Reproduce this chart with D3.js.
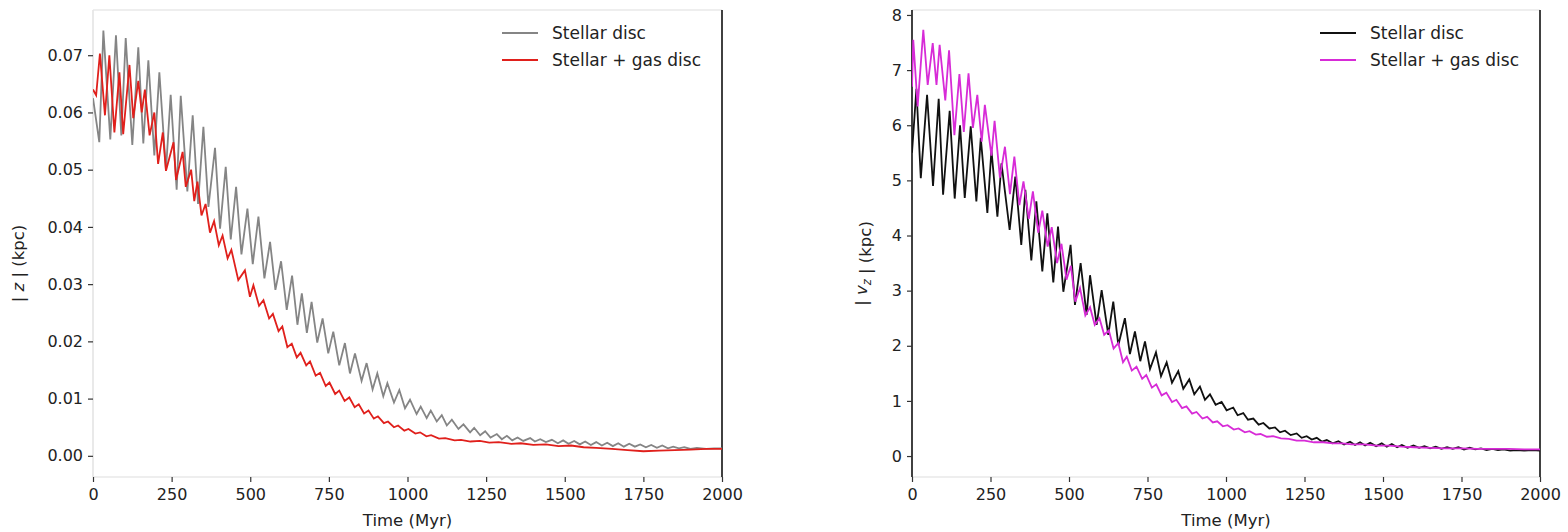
<!DOCTYPE html>
<html><head><meta charset="utf-8">
<script src="https://cdn.jsdelivr.net/npm/d3@7"></script>
<style>
html,body{margin:0;padding:0;background:#fff;}
text{font-family:"DejaVu Sans",sans-serif;fill:#222;}
</style></head><body>
<svg id="chart" width="1568" height="532"></svg>
<script>
// ---------- data ----------
const timeTicks = [0, 250, 500, 750, 1000, 1250, 1500, 1750, 2000];
const zTicks = [0.00, 0.01, 0.02, 0.03, 0.04, 0.05, 0.06, 0.07];
const vzTicks = [0, 1, 2, 3, 4, 5, 6, 7, 8];
const seriesNames = ["Stellar disc", "Stellar + gas disc"];

// |z| (kpc), stellar disc: [time (Myr), value]
const zStellar = [[0,0.0625],[20,0.0548],[33,0.0743],[55,0.0553],[73,0.0735],[90,0.0560],[104,0.0730],[125,0.0543],[144,0.0714],[160,0.0546],[176,0.0691],[195,0.0525],[211,0.0670],[232,0.0499],[247,0.0631],[266,0.0465],[279,0.0629],[300,0.0462],[317,0.0595],[334,0.0440],[351,0.0575],[367,0.0435],[388,0.0538],[404,0.0397],[422,0.0505],[438,0.0378],[455,0.0470],[472,0.0352],[491,0.0432],[508,0.0335],[526,0.0418],[545,0.0310],[563,0.0374],[580,0.0290],[598,0.0340],[616,0.0255],[633,0.0315],[650,0.0229],[664,0.0284],[680,0.0215],[695,0.0269],[713,0.0198],[730,0.0240],[748,0.0179],[764,0.0217],[783,0.0158],[801,0.0197],[817,0.0144],[833,0.0179],[854,0.0131],[870,0.0162],[889,0.0116],[904,0.0144],[923,0.0104],[936,0.0127],[957,0.0093],[974,0.0115],[992,0.0083],[1008,0.0098],[1029,0.0073],[1042,0.0086],[1061,0.0066],[1074,0.0079],[1093,0.0060],[1109,0.0071],[1125,0.0053],[1141,0.0063],[1162,0.0047],[1178,0.0055],[1199,0.0041],[1212,0.0049],[1231,0.0036],[1247,0.0043],[1264,0.0032],[1284,0.0038],[1300,0.0029],[1316,0.0035],[1333,0.0027],[1350,0.0032],[1368,0.0026],[1390,0.0031],[1405,0.0025],[1422,0.0029],[1440,0.0024],[1459,0.0028],[1478,0.0022],[1495,0.0027],[1512,0.0021],[1530,0.0026],[1548,0.0020],[1565,0.0025],[1583,0.0019],[1600,0.0024],[1618,0.0018],[1635,0.0023],[1653,0.0017],[1670,0.0022],[1688,0.0016],[1705,0.0021],[1723,0.0016],[1740,0.0020],[1758,0.0015],[1775,0.0019],[1793,0.0014],[1810,0.0018],[1828,0.0013],[1845,0.0016],[1863,0.0013],[1880,0.0015],[1900,0.0012],[1920,0.0014],[1950,0.0012],[1975,0.0013],[2000,0.0013]];

// |z| (kpc), stellar + gas disc
const zGas = [[0,0.0640],[10,0.0630],[22,0.0703],[38,0.0595],[52,0.0700],[68,0.0565],[84,0.0670],[96,0.0562],[116,0.0683],[128,0.0590],[144,0.0655],[155,0.0600],[165,0.0640],[180,0.0560],[195,0.0600],[207,0.0510],[222,0.0565],[232,0.0498],[256,0.0548],[264,0.0482],[285,0.0531],[295,0.0470],[312,0.0500],[322,0.0445],[332,0.0479],[345,0.0420],[358,0.0440],[372,0.0390],[385,0.0410],[400,0.0368],[412,0.0385],[428,0.0345],[440,0.0360],[462,0.0307],[483,0.0324],[499,0.0278],[510,0.0298],[528,0.0262],[542,0.0272],[560,0.0240],[572,0.0248],[590,0.0218],[602,0.0226],[618,0.0190],[632,0.0196],[648,0.0172],[660,0.0180],[678,0.0158],[690,0.0165],[708,0.0140],[722,0.0145],[740,0.0122],[752,0.0128],[770,0.0108],[783,0.0114],[800,0.0096],[815,0.0102],[832,0.0085],[845,0.0090],[862,0.0074],[876,0.0079],[893,0.0065],[906,0.0069],[925,0.0057],[938,0.0060],[957,0.0050],[970,0.0053],[990,0.0044],[1003,0.0047],[1025,0.0039],[1040,0.0041],[1060,0.0034],[1075,0.0036],[1100,0.0030],[1120,0.0031],[1150,0.0027],[1170,0.0028],[1200,0.0025],[1230,0.0026],[1260,0.0023],[1290,0.0024],[1330,0.0021],[1360,0.0022],[1400,0.0019],[1440,0.0020],[1480,0.0017],[1520,0.0018],[1560,0.0015],[1600,0.0014],[1650,0.0012],[1700,0.0010],[1750,0.0008],[1800,0.0009],[1850,0.0010],[1900,0.0011],[1950,0.0012],[2000,0.0012]];

// |v_z|, stellar disc
const vzStellar = [[0,5.50],[14,6.66],[28,5.04],[48,6.55],[67,4.90],[85,6.48],[99,4.74],[120,6.26],[136,4.67],[153,6.00],[168,4.68],[187,5.98],[205,4.62],[219,5.77],[240,4.41],[253,5.55],[272,4.34],[285,5.31],[311,4.10],[329,5.07],[348,3.83],[361,4.83],[380,3.55],[396,4.62],[415,3.35],[431,4.40],[450,3.15],[465,4.16],[482,2.98],[505,3.83],[519,2.74],[537,3.50],[556,2.56],[567,3.28],[588,2.38],[604,3.01],[625,2.20],[641,2.80],[657,2.01],[678,2.50],[694,1.85],[710,2.26],[727,1.72],[742,2.08],[758,1.58],[777,1.88],[793,1.45],[811,1.70],[828,1.33],[848,1.54],[864,1.22],[883,1.39],[899,1.12],[917,1.26],[933,1.02],[949,1.12],[967,0.93],[986,0.98],[1002,0.83],[1023,0.88],[1037,0.74],[1055,0.78],[1070,0.66],[1087,0.68],[1104,0.57],[1119,0.60],[1138,0.50],[1156,0.52],[1172,0.43],[1188,0.46],[1206,0.38],[1225,0.41],[1241,0.33],[1257,0.36],[1273,0.30],[1289,0.33],[1306,0.26],[1321,0.29],[1340,0.23],[1358,0.27],[1376,0.21],[1395,0.26],[1411,0.20],[1427,0.25],[1443,0.19],[1459,0.24],[1478,0.18],[1496,0.23],[1512,0.17],[1528,0.22],[1545,0.16],[1560,0.20],[1578,0.15],[1597,0.19],[1615,0.15],[1632,0.18],[1650,0.14],[1668,0.17],[1686,0.13],[1704,0.16],[1722,0.13],[1740,0.16],[1758,0.12],[1776,0.15],[1794,0.12],[1812,0.14],[1830,0.11],[1848,0.13],[1866,0.11],[1884,0.12],[1905,0.10],[1925,0.11],[1950,0.10],[1975,0.11],[2000,0.10]];

// |v_z|, stellar + gas disc
const vzGas = [[0,6.70],[4,7.55],[18,6.34],[36,7.73],[50,6.73],[66,7.49],[78,6.73],[88,7.46],[106,6.45],[118,7.36],[135,5.82],[151,6.93],[165,5.88],[180,6.94],[194,5.95],[208,6.55],[222,5.70],[232,6.37],[253,5.45],[263,6.08],[280,5.05],[296,5.61],[312,4.75],[326,5.43],[342,4.55],[355,4.98],[372,4.30],[385,4.80],[402,4.05],[415,4.45],[432,3.80],[445,4.15],[462,3.50],[476,3.85],[492,3.20],[506,3.45],[520,2.80],[535,3.05],[552,2.55],[567,2.70],[582,2.38],[597,2.50],[612,2.20],[627,2.28],[642,1.95],[657,2.05],[672,1.70],[684,1.80],[700,1.55],[715,1.62],[733,1.40],[746,1.47],[764,1.24],[778,1.30],[795,1.10],[810,1.15],[828,0.98],[842,1.02],[860,0.87],[874,0.90],[892,0.77],[906,0.80],[925,0.68],[940,0.71],[958,0.61],[972,0.63],[990,0.54],[1005,0.56],[1025,0.48],[1040,0.50],[1060,0.43],[1075,0.45],[1095,0.39],[1110,0.40],[1130,0.35],[1150,0.36],[1175,0.32],[1200,0.31],[1225,0.28],[1250,0.28],[1280,0.25],[1310,0.25],[1340,0.23],[1370,0.23],[1400,0.21],[1440,0.21],[1480,0.19],[1520,0.19],[1560,0.17],[1600,0.16],[1650,0.15],[1700,0.14],[1750,0.14],[1800,0.13],[1850,0.13],[1900,0.13],[1950,0.12],[2000,0.12]];

// ---------- drawing ----------
const svg = d3.select("#chart");

const panels = [
  { x0: 93, x1: 722, y0: 10, y1: 477, yDomain: [-0.0037, 0.0779], ticks: zTicks,
    fmt: d3.format(".2f"), series: [zStellar, zGas], colors: ["#858585", "#e0201c"],
    leftSpine: "#e4e4e4", rightSpine: "#111", legendX: 502, ylabelX: 24, ylabel: "z" },
  { x0: 912, x1: 1540, y0: 10, y1: 477, yDomain: [-0.38, 8.09], ticks: vzTicks,
    fmt: d3.format("d"), series: [vzStellar, vzGas], colors: ["#111111", "#d72bd7"],
    leftSpine: "#111", rightSpine: "#111", legendX: 1320, ylabelX: 867, ylabel: "vz" }
];

panels.forEach((p, pi) => {
  const x = d3.scaleLinear().domain([0, 2000]).range([p.x0, p.x1]);
  const y = d3.scaleLinear().domain(p.yDomain).range([p.y1, p.y0]);
  const g = svg.append("g");

  const clipId = "clip" + pi;
  svg.append("clipPath").attr("id", clipId).append("rect")
    .attr("x", p.x0).attr("y", p.y0).attr("width", p.x1 - p.x0).attr("height", p.y1 - p.y0);

  // spines
  g.append("line").attr("x1", p.x0).attr("x2", p.x1).attr("y1", p.y0).attr("y2", p.y0)
    .attr("stroke", "#e8e8e8").attr("stroke-width", 1.5);
  g.append("line").attr("x1", p.x0).attr("x2", p.x1).attr("y1", p.y1).attr("y2", p.y1)
    .attr("stroke", "#e8e8e8").attr("stroke-width", 1.5);
  g.append("line").attr("x1", p.x0).attr("x2", p.x0).attr("y1", p.y0).attr("y2", p.y1)
    .attr("stroke", p.leftSpine).attr("stroke-width", 1.6);
  g.append("line").attr("x1", p.x1).attr("x2", p.x1).attr("y1", p.y0).attr("y2", p.y1)
    .attr("stroke", p.rightSpine).attr("stroke-width", 1.6);

  // x axis
  const xa = g.append("g").attr("transform", `translate(0,${p.y1})`)
    .call(d3.axisBottom(x).tickValues(timeTicks).tickFormat(d3.format("d")).tickSize(5).tickPadding(7));
  xa.select(".domain").remove();
  xa.selectAll(".tick line").attr("stroke", "#333").attr("stroke-width", 1.2);
  xa.selectAll(".tick text").attr("font-size", 16).attr("font-family", "DejaVu Sans").attr("fill", "#222");

  // y axis
  const ya = g.append("g").attr("transform", `translate(${p.x0},0)`)
    .call(d3.axisLeft(y).tickValues(p.ticks).tickFormat(p.fmt).tickSize(5).tickPadding(5));
  ya.select(".domain").remove();
  ya.selectAll(".tick line").attr("stroke", "#333").attr("stroke-width", 1.2);
  ya.selectAll(".tick text").attr("font-size", 16).attr("font-family", "DejaVu Sans").attr("fill", "#222");

  // lines
  const line = d3.line().x(d => x(d[0])).y(d => y(d[1]));
  const lg = g.append("g").attr("clip-path", `url(#${clipId})`);
  p.series.forEach((s, i) => {
    lg.append("path").datum(s).attr("d", line).attr("fill", "none")
      .attr("stroke", p.colors[i]).attr("stroke-width", 1.8).attr("stroke-linejoin", "miter");
  });

  // legend
  seriesNames.forEach((name, i) => {
    const ly = 33 + i * 27;
    g.append("line").attr("x1", p.legendX).attr("x2", p.legendX + 36).attr("y1", ly).attr("y2", ly)
      .attr("stroke", p.colors[i]).attr("stroke-width", 1.8);
    g.append("text").attr("x", p.legendX + 50).attr("y", ly + 6).attr("font-size", 17).text(name);
  });

  // x label
  g.append("text").attr("x", (p.x0 + p.x1) / 2).attr("y", 526).attr("text-anchor", "middle")
    .attr("font-size", 16.5).text("Time (Myr)");

  // y label
  const yl = g.append("text").attr("transform", `translate(${p.ylabelX},${(p.y0 + p.y1) / 2 + 20}) rotate(-90)`)
    .attr("text-anchor", "middle").attr("font-size", 16.5);
  yl.append("tspan").text("| ");
  if (p.ylabel === "z") {
    yl.append("tspan").attr("font-style", "italic").text("z");
  } else {
    yl.append("tspan").attr("font-style", "italic").text("v");
    yl.append("tspan").attr("font-style", "italic").attr("font-size", 11.5).attr("dy", 4).text("z");
    yl.append("tspan").attr("dy", -4).text("");
  }
  yl.append("tspan").text(" | (kpc)");
});
</script>
</body></html>
